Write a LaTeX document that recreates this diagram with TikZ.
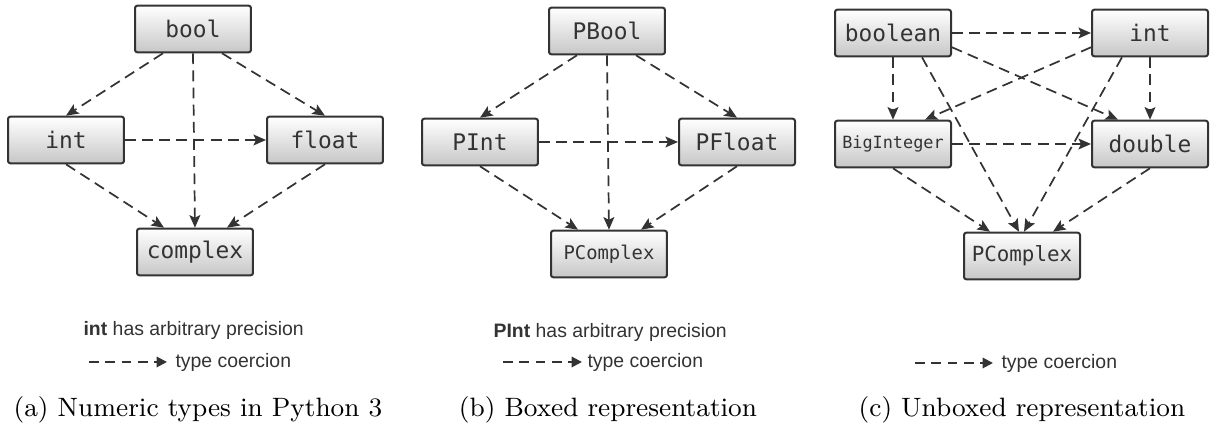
\documentclass[tikz,border=0pt]{standalone}
\usepackage{fontspec}
\newfontfamily\boxfont{DejaVu Sans Mono}
\newfontfamily\legfont{Liberation Sans}
\usetikzlibrary{arrows.meta,calc}
\definecolor{edgecol}{HTML}{333333}
\tikzset{
  tbox/.style={draw=edgecol, line width=0.7pt, rounded corners=0.8pt,
    top color=white, bottom color=black!22, minimum width=40.6pt,
    minimum height=16.3pt, inner sep=0pt, text=edgecol,
    font=\boxfont\fontsize{8}{9}\selectfont},
  coerce/.style={draw=edgecol, line width=0.6pt, dash pattern=on 3.8pt off 2.2pt,
    -{Stealth[length=4.4pt,width=3.8pt,inset=0.9pt]}},
  legarrow/.style={draw=edgecol, line width=0.7pt, dash pattern=on 3.4pt off 2.3pt,
    -{Triangle[length=3.6pt,width=3.6pt]}},
  legtext/.style={font=\legfont\fontsize{6.8}{8}\selectfont, text=black!80, inner sep=0pt},
  captext/.style={font=\fontsize{9.3}{11}\selectfont, inner sep=0pt, anchor=base}
}
\begin{document}
\begin{tikzpicture}[x=0.35pt,y=-0.35pt]
\useasboundingbox (0,0) rectangle (1210,427);
% ---------- panel (a)
\node[tbox] (bool) at (193,29) {bool};
\node[tbox] (int) at (66,140) {int};
\node[tbox] (float) at (325,140) {float};
\node[tbox] (complex) at (195,252) {complex};
\draw[coerce] ($(bool.south)+(-30,0)$) -- (int.north);
\draw[coerce] ($(bool.south)+(29,0)$) -- (float.north);
\draw[coerce] (bool.south) -- (complex.north);
\draw[coerce] (int.east) -- (float.west);
\draw[coerce] (int.south) -- ($(complex.north)+(-31,0)$);
\draw[coerce] (float.south) -- ($(complex.north)+(32,0)$);
\node[legtext, anchor=west] (lega1) at (83,330) {\textbf{int} has arbitrary precision};
\coordinate (la1) at (89,362);
\coordinate (la2) at (167,362);
\draw[legarrow] (la1) -- (la2);
\node[legtext, anchor=west] (lega2) at (175,362) {type coercion};
\node[captext] (capa) at (198,417) {(a) Numeric types in Python 3};
% ---------- panel (b)
\node[tbox] (pbool) at (607,31) {PBool};
\node[tbox] (pint) at (480,142) {PInt};
\node[tbox] (pfloat) at (737,142) {PFloat};
\node[tbox, font=\boxfont\fontsize{6.6}{8}\selectfont] (pcomplex) at (609,254) {PComplex};
\draw[coerce] ($(pbool.south)+(-30,0)$) -- (pint.north);
\draw[coerce] ($(pbool.south)+(29,0)$) -- (pfloat.north);
\draw[coerce] (pbool.south) -- (pcomplex.north);
\draw[coerce] (pint.east) -- (pfloat.west);
\draw[coerce] (pint.south) -- ($(pcomplex.north)+(-31,0)$);
\draw[coerce] (pfloat.south) -- ($(pcomplex.north)+(32,0)$);
\node[legtext, anchor=west] (legb1) at (493,332) {\textbf{PInt} has arbitrary precision};
\coordinate (lb1) at (503,362);
\coordinate (lb2) at (582,362);
\draw[legarrow] (lb1) -- (lb2);
\node[legtext, anchor=west] (legb2) at (587,362) {type coercion};
\node[captext] (capb) at (608,417) {(b) Boxed representation};
% ---------- panel (c)
\node[tbox] (boolean) at (893,33) {boolean};
\node[tbox] (cint) at (1150,33) {int};
\node[tbox, font=\boxfont\fontsize{5.9}{7}\selectfont] (bigint) at (893,144) {BigInteger};
\node[tbox] (double) at (1150,144) {double};
\node[tbox, font=\boxfont\fontsize{7.3}{8}\selectfont] (cpcomplex) at (1022,256) {PComplex};
\draw[coerce] (boolean.east) -- (cint.west);
\draw[coerce] (boolean.south) -- (bigint.north);
\draw[coerce] ($(boolean.south east)+(0,-10)$) -- ($(double.north)+(-32,0)$);
\draw[coerce] ($(boolean.south)+(29,0)$) -- ($(cpcomplex.north)+(-3,0)$);
\draw[coerce] ($(cint.south west)+(0,-10)$) -- ($(bigint.north)+(32,0)$);
\draw[coerce] ($(cint.south)+(-28,0)$) -- ($(cpcomplex.north)+(2,0)$);
\draw[coerce] (cint.south) -- (double.north);
\draw[coerce] (bigint.east) -- (double.west);
\draw[coerce] (bigint.south) -- ($(cpcomplex.north)+(-32,0)$);
\draw[coerce] (double.south) -- ($(cpcomplex.north)+(31,0)$);
\coordinate (lc1) at (915,363);
\coordinate (lc2) at (993,363);
\draw[legarrow] (lc1) -- (lc2);
\node[legtext, anchor=west] (legc2) at (1001,363) {type coercion};
\node[captext] (capc) at (1022,417) {(c) Unboxed representation};
\end{tikzpicture}
\end{document}
